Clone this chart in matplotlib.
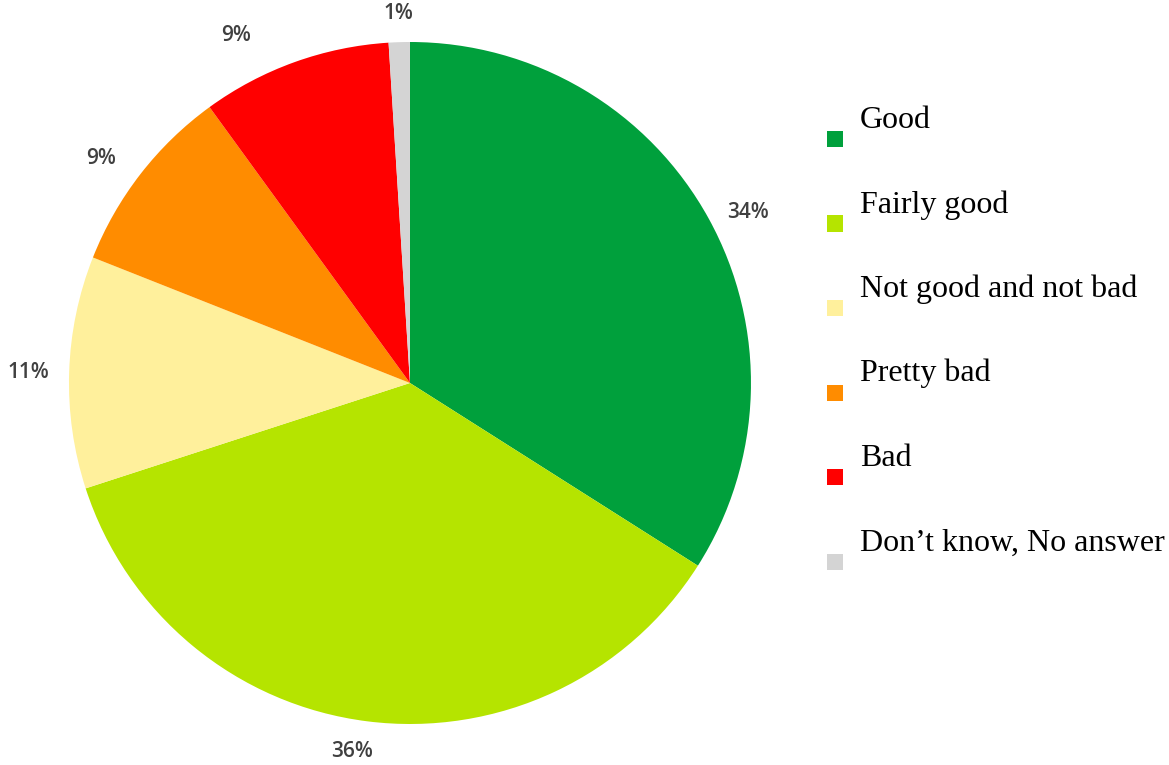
import matplotlib.pyplot as plt
from matplotlib.patches import Rectangle
import numpy as np

# survey answers and their shares (%)
categories = ['Good', 'Fairly good', 'Not good and not bad', 'Pretty bad', 'Bad',
              'Don\u2019t know, No answer']
shares = [34, 36, 11, 9, 9, 1]
colors = ['#00A03C', '#B5E400', '#FFF09C', '#FF8C00', '#FF0000', '#D4D4D4']

fig = plt.figure(figsize=(11.69, 7.65), dpi=100)
ax = fig.add_axes([0.059, 0.0536, 0.5834, 0.8915])

wedges, texts = ax.pie(shares, colors=colors, startangle=90, counterclock=False,
                       wedgeprops=dict(linewidth=0))
ax.set_xlim(-1, 1)
ax.set_ylim(-1, 1)
ax.set_aspect('equal')

# percentage labels just outside each slice (distance / angle nudges per label)
label_dist = [1.11, 1.095, 1.12, 1.12, 1.14, 1.085]
label_turn = [-2, -1.7, 0.3, 1.8, 6.8, 0]
for w, v, d, t in zip(wedges, shares, label_dist, label_turn):
    mid = np.deg2rad((w.theta1 + w.theta2) / 2 + t)
    ax.text(d * np.cos(mid), d * np.sin(mid), f'{v}%', ha='center', va='center',
            fontsize=15, color='#404040', fontfamily='Open Sans', fontweight='semibold',
            clip_on=False)

# legend: square swatch with the label sitting above-right of it
W, H = 1169, 765
y0, step = 139, 84.5
for i, (lab, c) in enumerate(zip(categories, colors)):
    yc = y0 + i * step
    fig.add_artist(Rectangle((827 / W, 1 - (yc + 8) / H), 16 / W, 16 / H,
                             transform=fig.transFigure, facecolor=c, edgecolor='none'))
    fig.text(860 / W, 1 - (yc - 11) / H, lab, ha='left', va='baseline',
             fontsize=23, fontfamily='Liberation Serif', color='black')

plt.savefig('out.png', dpi=100)
